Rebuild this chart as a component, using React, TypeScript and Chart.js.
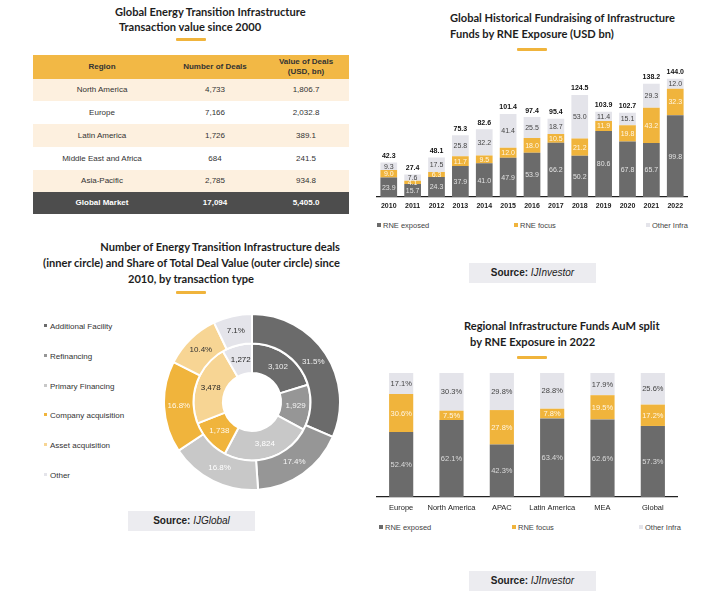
import React, { useEffect, useRef } from "react";
import { Chart, registerables } from "chart.js";
Chart.register(...registerables);

// ---------- DATA ----------
const tableRegions = ["North America", "Europe", "Latin America", "Middle East and Africa", "Asia-Pacific"];
const tableDeals = ["4,733", "7,166", "1,726", "684", "2,785"];
const tableValues = ["1,806.7", "2,032.8", "389.1", "241.5", "934.8"];
const tableTotal = ["Global Market", "17,094", "5,405.0"];

const years = ["2010", "2011", "2012", "2013", "2014", "2015", "2016", "2017", "2018", "2019", "2020", "2021", "2022"];
const fundExposed = [23.9, 15.7, 24.3, 37.9, 41.0, 47.9, 53.9, 66.2, 50.2, 80.6, 67.8, 65.7, 99.8];
const fundFocus = [9.0, 4.1, 6.3, 11.7, 9.5, 12.0, 18.0, 10.5, 21.2, 11.9, 19.8, 43.2, 32.3];
const fundOther = [9.3, 7.6, 17.5, 25.8, 32.2, 41.4, 25.5, 18.7, 53.0, 11.4, 15.1, 29.3, 12.0];
const fundTotals = [42.3, 27.4, 48.1, 75.3, 82.6, 101.4, 97.4, 95.4, 124.5, 103.9, 102.7, 138.2, 144.0];

const dealTypes = ["Additional Facility", "Refinancing", "Primary Financing", "Company acquisition", "Asset acquisition", "Other"];
const valueShare = [31.5, 17.4, 16.8, 16.8, 10.4, 7.1];
const dealCounts = [3102, 1929, 3824, 1738, 3478, 1272];

const regions = ["Europe", "North America", "APAC", "Latin America", "MEA", "Global"];
const regExposed = [52.4, 62.1, 42.3, 63.4, 62.6, 57.3];
const regFocus = [30.6, 7.5, 27.8, 7.8, 19.5, 17.2];
const regOther = [17.1, 30.3, 29.8, 28.8, 17.9, 25.6];

const seriesNames = ["RNE exposed", "RNE focus", "Other Infra"];

// ---------- STYLE ----------
const DARK = "#6b6b6b";
const YELLOW = "#f0b43c";
const LIGHT = "#e4e4ea";
const MID = "#969696";
const PALE = "#c8c8c8";
const PALEY = "#f7d594";
const seriesColors = [DARK, YELLOW, LIGHT];
const donutColors = [DARK, MID, PALE, YELLOW, PALEY, LIGHT];
const FONT = '"Liberation Sans", Arial, sans-serif';
const TFONT = 'Lato, "Open Sans", sans-serif';

const barLabels = (colors: string[], fmt: (v: number) => string, size: number, totals?: number[]) => ({
  id: "barLabels",
  afterDatasetsDraw(chart: any) {
    const ctx = chart.ctx;
    ctx.save();
    ctx.textAlign = "center";
    ctx.textBaseline = "middle";
    ctx.font = `${size}px ${FONT}`;
    chart.data.datasets.forEach((ds: any, di: number) => {
      const meta = chart.getDatasetMeta(di);
      meta.data.forEach((el: any, i: number) => {
        ctx.fillStyle = colors[di];
        ctx.fillText(fmt(ds.data[i]), el.x, (el.y + el.base) / 2 + 0.5);
      });
    });
    if (totals) {
      const meta = chart.getDatasetMeta(chart.data.datasets.length - 1);
      ctx.font = `bold ${size}px ${FONT}`;
      ctx.fillStyle = "#111";
      meta.data.forEach((el: any, i: number) => {
        ctx.fillText(totals[i].toFixed(1), el.x, el.y - 6.5);
      });
    }
    ctx.restore();
  },
});

const donutLabels = {
  id: "donutLabels",
  afterDatasetsDraw(chart: any) {
    const ctx = chart.ctx;
    ctx.save();
    ctx.textAlign = "center";
    ctx.textBaseline = "middle";
    ctx.font = `8px ${FONT}`;
    const outerCol = ["#eeeeee", "#f4f4f4", "#ffffff", "#fff8ea", "#333333", "#333333"];
    const innerCol = ["#eeeeee", "#f4f4f4", "#ffffff", "#fff8ea", "#222222", "#222222"];
    chart.data.datasets.forEach((ds: any, di: number) => {
      const meta = chart.getDatasetMeta(di);
      meta.data.forEach((arc: any, i: number) => {
        const p = arc.tooltipPosition();
        const v = ds.data[i];
        ctx.fillStyle = di === 0 ? outerCol[i] : innerCol[i];
        const txt = di === 0 ? v.toFixed(1) + "%" : v.toLocaleString("en-US");
        ctx.fillText(txt, p.x, p.y);
      });
    });
    ctx.restore();
  },
};

const abs = (s: any) => ({ position: "absolute" as const, whiteSpace: "nowrap" as const, ...s });

function Title({ lines }: { lines: { text: string; x: number; y: number; align?: string }[] }) {
  return (
    <>
      {lines.map((l, i) => {
        const base: any = { top: l.y - 7, fontFamily: TFONT, fontWeight: 700, fontSize: 11.1, lineHeight: "14px", color: "#1d1d1d" };
        if (l.align === "right") base.right = 720 - l.x;
        else if (l.align === "center") { base.left = l.x; base.transform = "translateX(-50%)"; }
        else base.left = l.x;
        return <div key={i} style={abs(base)}>{l.text}</div>;
      })}
    </>
  );
}

const Underline = ({ x, y }: { x: number; y: number }) => (
  <div style={abs({ left: x, top: y - 1.5, width: 30, height: 3, background: YELLOW, borderRadius: 1 })} />
);

const Source = ({ x, y, name }: { x: number; y: number; name: string }) => (
  <div style={abs({ left: x, top: y, width: 127, height: 20, background: "#ececf0", fontFamily: FONT, fontSize: 10, lineHeight: "20px", textAlign: "center", color: "#222" })}>
    <b>Source:</b> <i>{name}</i>
  </div>
);

function BarLegend({ y, xs }: { y: number; xs: number[] }) {
  return (
    <>
      {seriesNames.map((n, i) => (
        <div key={n} style={abs({ left: xs[i], top: y - 6, height: 12, lineHeight: "12px", fontFamily: FONT, fontSize: 7.5, color: "#444" })}>
          <span style={{ display: "inline-block", width: 4, height: 4, background: seriesColors[i], marginRight: 2, verticalAlign: "1px" }} />
          {n}
        </div>
      ))}
    </>
  );
}

export default function App() {
  const c1 = useRef<HTMLCanvasElement>(null);
  const c2 = useRef<HTMLCanvasElement>(null);
  const c3 = useRef<HTMLCanvasElement>(null);

  useEffect(() => {
    const xAxis = (fontWeight: string, size: number, pad: number) => ({
      stacked: true,
      grid: { display: false, drawTicks: false },
      border: { display: true, color: "#222", width: 1.3 },
      ticks: { font: { family: FONT, size, weight: fontWeight }, color: "#222", padding: pad, maxRotation: 0, autoSkip: false },
      afterFit: (s: any) => { s.height = 23; },
    });

    const ch1 = new Chart(c1.current!, {
      type: "bar",
      data: {
        labels: years,
        datasets: [
          { label: seriesNames[0], data: fundExposed, backgroundColor: DARK },
          { label: seriesNames[1], data: fundFocus, backgroundColor: YELLOW },
          { label: seriesNames[2], data: fundOther, backgroundColor: LIGHT },
        ],
      },
      options: {
        responsive: false,
        animation: false,
        events: [],
        layout: { padding: 0 },
        plugins: { legend: { display: false }, tooltip: { enabled: false } },
        datasets: { bar: { barPercentage: 0.7, categoryPercentage: 1 } },
        scales: {
          x: xAxis("bold", 7, 5) as any,
          y: { stacked: true, display: false, min: 0, max: 167 },
        },
      },
      plugins: [barLabels(["#e2e2e2", "#fff6e4", "#444"], (v) => v.toFixed(1), 7, fundTotals)],
    });

    const ch2 = new Chart(c2.current!, {
      type: "bar",
      data: {
        labels: regions,
        datasets: [
          { label: seriesNames[0], data: regExposed, backgroundColor: DARK },
          { label: seriesNames[1], data: regFocus, backgroundColor: YELLOW },
          { label: seriesNames[2], data: regOther, backgroundColor: LIGHT },
        ],
      },
      options: {
        responsive: false,
        animation: false,
        events: [],
        layout: { padding: { top: 13 } },
        plugins: { legend: { display: false }, tooltip: { enabled: false } },
        datasets: { bar: { barPercentage: 0.48, categoryPercentage: 1 } },
        scales: {
          x: xAxis("normal", 7.5, 6) as any,
          y: { stacked: true, display: false, min: 0, max: 100 },
        },
      },
      plugins: [barLabels(["#dcdcdc", "#fff6e4", "#444"], (v) => v.toFixed(1) + "%", 7.5)],
    });

    const ch3 = new Chart(c3.current!, {
      type: "doughnut",
      data: {
        labels: dealTypes,
        datasets: [
          { data: valueShare, backgroundColor: donutColors, borderColor: "#fff", borderWidth: 2, hoverOffset: 0 },
          { data: dealCounts, backgroundColor: donutColors, borderColor: "#fff", borderWidth: 2, hoverOffset: 0 },
        ],
      },
      options: {
        responsive: false,
        animation: false,
        events: [],
        cutout: "33%",
        layout: { padding: 0 },
        plugins: { legend: { display: false }, tooltip: { enabled: false } },
      },
      plugins: [donutLabels],
    });

    return () => { ch1.destroy(); ch2.destroy(); ch3.destroy(); };
  }, []);

  const rowTops = [79, 101, 124, 147, 170, 192, 214];
  const colCenters = [102, 215, 306];
  const cell = (text: string, cx: number, top: number, h: number, extra: any = {}) => (
    <div style={abs({ left: cx - 60, width: 120, top, height: h, lineHeight: h + "px", textAlign: "center", fontFamily: FONT, fontSize: 8, color: "#333", ...extra })}>{text}</div>
  );

  return (
    <div style={{ position: "absolute", left: 0, top: 0, width: 720, height: 611, background: "#fff", overflow: "hidden" }}>
      {/* ---- Table ---- */}
      <Title lines={[
        { text: "Global Energy Transition Infrastructure", x: 115, y: 12 },
        { text: "Transaction value since 2000", x: 119, y: 27 },
      ]} />
      <Underline x={176} y={39} />
      <div style={abs({ left: 33, top: 55, width: 316, height: 24, background: "#f2b845" })} />
      {cell("Region", colCenters[0], 55, 24, { fontWeight: 700 })}
      {cell("Number of Deals", colCenters[1], 55, 24, { fontWeight: 700 })}
      <div style={abs({ left: colCenters[2] - 60, width: 120, top: 57, textAlign: "center", fontFamily: FONT, fontSize: 8, lineHeight: "10px", fontWeight: 700, color: "#333" })}>
        Value of Deals<br />(USD, bn)
      </div>
      {tableRegions.map((r, i) => {
        const top = rowTops[i];
        const h = rowTops[i + 1] - top;
        return (
          <React.Fragment key={r}>
            <div style={abs({ left: 33, top, width: 316, height: h, background: i % 2 === 0 ? "#fdf0df" : "#ffffff" })} />
            {cell(r, colCenters[0], top, h)}
            {cell(tableDeals[i], colCenters[1], top, h)}
            {cell(tableValues[i], colCenters[2], top, h)}
          </React.Fragment>
        );
      })}
      <div style={abs({ left: 33, top: 192, width: 316, height: 22, background: "#4d4d4d" })} />
      {tableTotal.map((t, i) => (
        <React.Fragment key={t}>{cell(t, colCenters[i], 192, 22, { color: "#fff", fontWeight: 700 })}</React.Fragment>
      ))}

      {/* ---- Fundraising chart ---- */}
      <Title lines={[
        { text: "Global Historical Fundraising of Infrastructure", x: 450, y: 18 },
        { text: "Funds by RNE Exposure (USD bn)", x: 450, y: 34 },
      ]} />
      <Underline x={517} y={49} />
      <canvas ref={c1} width={312} height={160} style={abs({ left: 376, top: 60, width: 312, height: 160 })} />
      <BarLegend y={226} xs={[377, 514, 646]} />
      <Source x={469} y={263} name="IJInvestor" />

      {/* ---- Doughnut ---- */}
      <Title lines={[
        { text: "Number of Energy Transition Infrastructure deals", x: 340, y: 247, align: "right" },
        { text: "(inner circle) and Share of Total Deal Value (outer circle) since", x: 340, y: 263, align: "right" },
        { text: "2010, by transaction type", x: 191, y: 279, align: "center" },
      ]} />
      <Underline x={176} y={292} />
      {dealTypes.map((d, i) => (
        <div key={d} style={abs({ left: 44, top: 327 + i * 29.8 - 6, height: 12, lineHeight: "12px", fontFamily: FONT, fontSize: 8, color: "#333" })}>
          <span style={{ display: "inline-block", width: 3, height: 3, background: donutColors[i], marginRight: 3, verticalAlign: "2px" }} />
          {d}
        </div>
      ))}
      <canvas ref={c3} width={178} height={178} style={abs({ left: 163, top: 313, width: 178, height: 178 })} />
      <Source x={128} y={511} name="IJGlobal" />

      {/* ---- Regional chart ---- */}
      <Title lines={[
        { text: "Regional Infrastructure Funds AuM split", x: 464, y: 326 },
        { text: "by RNE Exposure in 2022", x: 470, y: 342 },
      ]} />
      <Underline x={517} y={357} />
      <canvas ref={c2} width={302} height={160} style={abs({ left: 376, top: 360, width: 302, height: 160 })} />
      <BarLegend y={528} xs={[379, 512, 639]} />
      <Source x={469} y={571} name="IJInvestor" />
    </div>
  );
}
